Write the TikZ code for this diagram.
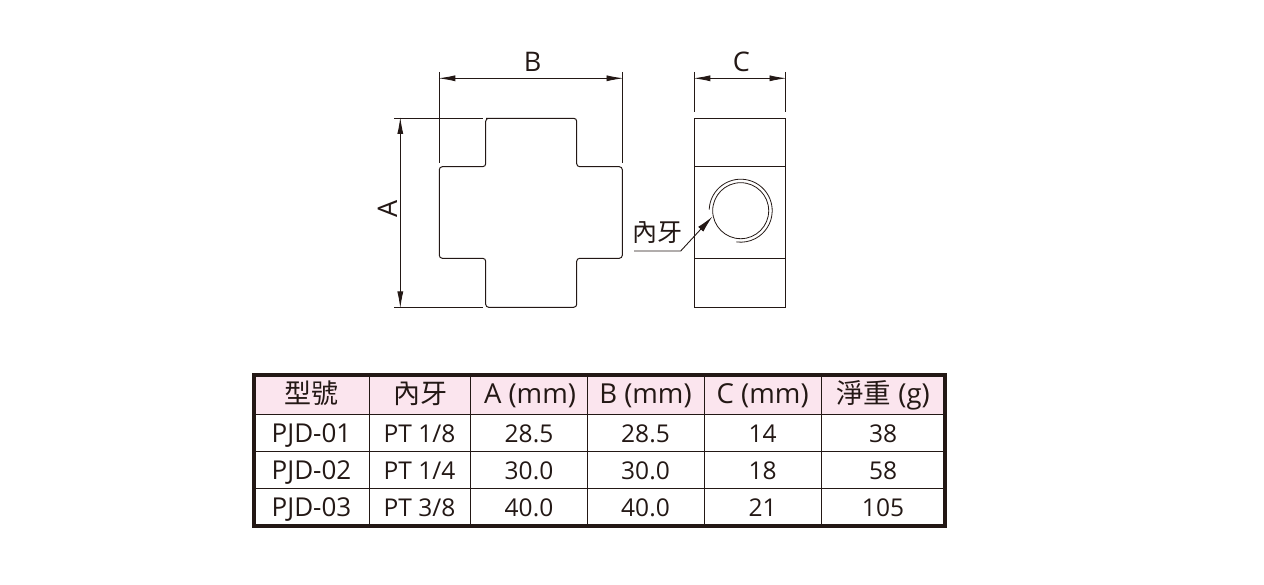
\documentclass[tikz,border=0pt]{standalone}
\usepackage{fontspec}
\setmainfont{Open Sans}
\newfontfamily\cjk{Noto Sans CJK TC}[Scale=1]
\usetikzlibrary{arrows.meta}
\definecolor{ink}{HTML}{231815}
\definecolor{headpink}{HTML}{FBE5EE}
\tikzset{
  part/.style={draw=ink,line width=1pt},
  extline/.style={draw=ink,line width=0.9pt},
  dimline/.style={draw=ink,line width=0.9pt,{Latex[length=17pt,width=6pt]}-{Latex[length=17pt,width=6pt]}},
  leader/.style={draw=ink,line width=0.9pt,-{Latex[length=17pt,width=7pt]}},
  dimtext/.style={text=ink,font=\fontsize{27}{27}\selectfont,inner sep=0pt},
  cell/.style={text=ink,font=\fontsize{24.5}{24.5}\selectfont,inner sep=0pt,anchor=base},
  idcell/.style={cell,font=\fontsize{26}{26}\selectfont},
  headcell/.style={cell,font=\fontsize{27.5}{27.5}\selectfont},
  headcjk/.style={cell,font=\fontsize{27}{27}\cjk},
  rule/.style={draw=ink,line width=1pt},
  frame/.style={draw=ink,line width=4pt}
}
\begin{document}
\begin{tikzpicture}[x=1pt,y=-1pt]
\useasboundingbox (0,0) rectangle (1264,585);
% cross view
\draw[part,rounded corners=3pt] (486,118.3) -- (576.7,118.3) -- (576.7,166.7) -- (622.3,166.7) -- (622.3,258.3) -- (576.7,258.3) -- (576.7,307.3) -- (485.7,307.3) -- (485.7,258.3) -- (439.3,258.3) -- (439.3,166.7) -- (485.7,166.7) -- (485.7,118.3) -- (490,118.3);
% dimension B
\coordinate (bl1) at (439.3,72); \coordinate (bl2) at (439.3,163.3);
\coordinate (br1) at (622.3,72); \coordinate (br2) at (622.3,163.3);
\coordinate (bd1) at (438.3,78.3); \coordinate (bd2) at (623.5,78.3);
\draw[extline] (bl1) -- (bl2);
\draw[extline] (br1) -- (br2);
\draw[dimline] (bd1) -- (bd2);
\node[dimtext] (labB) at (532.5,62) {B};
% dimension A
\coordinate (at1) at (394,118.3); \coordinate (at2) at (482.7,118.3);
\coordinate (ab1) at (394,307.3); \coordinate (ab2) at (482.7,307.3);
\coordinate (ad1) at (400.3,117); \coordinate (ad2) at (400.3,308.5);
\draw[extline] (at1) -- (at2);
\draw[extline] (ab1) -- (ab2);
\draw[dimline] (ad1) -- (ad2);
\node[dimtext,rotate=90] (labA) at (387.5,209) {A};
% side view
\draw[part] (694.3,118.3) rectangle (785.3,307.3);
\coordinate (sl1) at (694.3,166.7); \coordinate (sr1) at (785.3,166.7);
\coordinate (sl2) at (694.3,258.3); \coordinate (sr2) at (785.3,258.3);
\draw[part] (sl1) -- (sr1);
\draw[part] (sl2) -- (sr2);
\coordinate (hole) at (740.7,210.7);
\draw[part,line width=0.8pt] (hole) circle[radius=28];
\draw[part,line width=0.8pt] (hole) ++(-178:31.5) arc[start angle=-178,end angle=98,radius=31.5];
% dimension C
\coordinate (cl1) at (694.3,72); \coordinate (cl2) at (694.3,112);
\coordinate (cr1) at (785.3,72); \coordinate (cr2) at (785.3,112);
\coordinate (cd1) at (693.3,78.3); \coordinate (cd2) at (786.5,78.3);
\draw[extline] (cl1) -- (cl2);
\draw[extline] (cr1) -- (cr2);
\draw[dimline] (cd1) -- (cd2);
\node[dimtext] (labC) at (741.5,62) {C};
% leader
\node[dimtext,font=\fontsize{25}{25}\cjk] (labT) at (657.5,232.5) {內牙};
\coordinate (ls) at (634,251); \coordinate (lk) at (680.7,251); \coordinate (lt) at (712.3,216.7);
\draw[leader] (ls) -- (lk) -- (lt);
% table
\fill[headpink] (254,375) rectangle (944.7,414.3);
\draw[rule] (254,414.3) -- (944.7,414.3);
\draw[rule] (254,451.3) -- (944.7,451.3);
\draw[rule] (254,488.3) -- (944.7,488.3);
\draw[rule] (369.3,375) -- (369.3,526);
\draw[rule] (470.7,375) -- (470.7,526);
\draw[rule] (587.7,375) -- (587.7,526);
\draw[rule] (704.3,375) -- (704.3,526);
\draw[rule] (821.3,375) -- (821.3,526);
\draw[frame] (254,375) rectangle (944.7,526);
% header
\node[headcjk] (h1) at (311.5,403.5) {型號};
\node[headcjk] (h2) at (420,403.5) {內牙};
\node[headcell] (h3) at (530,403) {A (mm)};
\node[headcell] (h4) at (645.5,403) {B (mm)};
\node[headcell] (h5) at (762.7,403) {C (mm)};
\node[headcell] (h6) at (883,403) {{\cjk 淨重} (g)};
% rows
\node[idcell] (a1) at (311.5,442.7) {PJD-01};
\node[cell] (a2) at (419.5,442.7) {PT 1/8};
\node[cell] (a3) at (529,442.7) {28.5};
\node[cell] (a4) at (645.5,442.7) {28.5};
\node[cell] (a5) at (762.7,442.7) {14};
\node[cell] (a6) at (883,442.7) {38};
\node[idcell] (b1) at (311.5,479.5) {PJD-02};
\node[cell] (b2) at (419.5,479.5) {PT 1/4};
\node[cell] (b3) at (529,479.5) {30.0};
\node[cell] (b4) at (645.5,479.5) {30.0};
\node[cell] (b5) at (762.7,479.5) {18};
\node[cell] (b6) at (883,479.5) {58};
\node[idcell] (c1) at (311.5,516.3) {PJD-03};
\node[cell] (c2) at (419.5,516.3) {PT 3/8};
\node[cell] (c3) at (529,516.3) {40.0};
\node[cell] (c4) at (645.5,516.3) {40.0};
\node[cell] (c5) at (762.7,516.3) {21};
\node[cell] (c6) at (883,516.3) {105};
\end{tikzpicture}
\end{document}
